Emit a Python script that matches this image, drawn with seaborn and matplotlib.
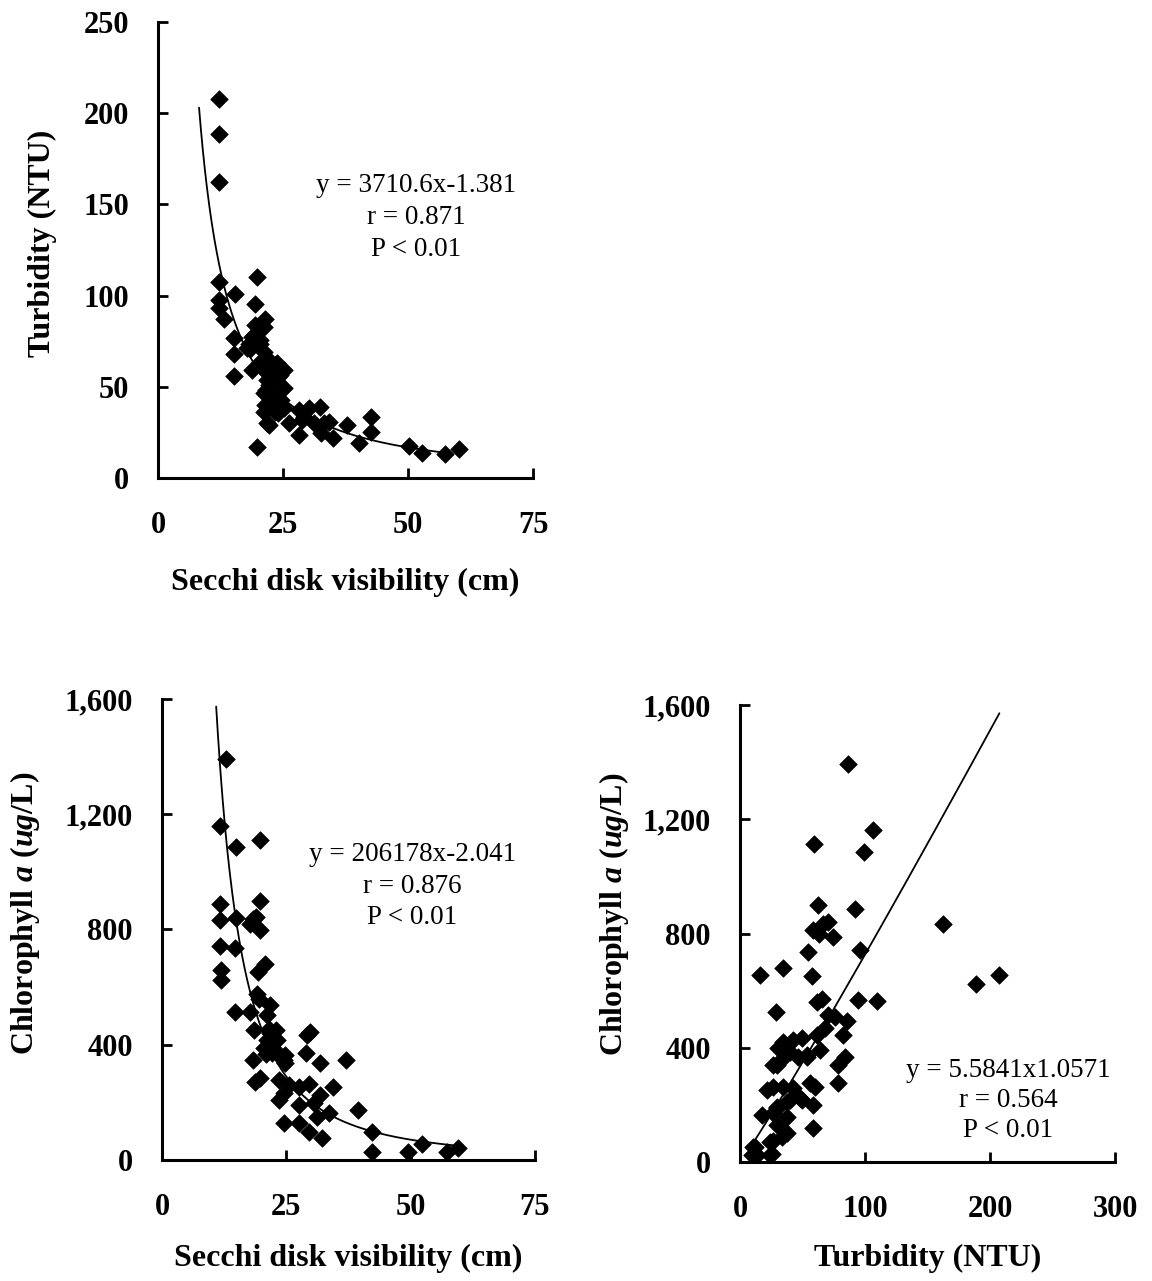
import numpy as np
import pandas as pd
import matplotlib
matplotlib.use("Agg")
import matplotlib.pyplot as plt
from matplotlib.ticker import FuncFormatter, FixedLocator
import seaborn as sns

# Secchi disk visibility (cm) vs turbidity (NTU)
secchi_t = [12.2, 12.2, 12.2, 12.2, 12.2, 12.2, 13.1, 15.3, 19.7, 19.3, 15.2, 15.2, 15.2, 19.7,
            21.3, 21.1, 19.3, 19.1, 20.3, 18.7, 18.1, 17.7, 18.4, 20.4, 21.1, 22.1, 23.7, 25.1,
            18.7, 20.7, 20.4, 23.3, 24.3, 21.7, 21.7, 23.9, 22.1, 25.1, 21.6, 21.1, 22.3, 24.6,
            23.3, 21.3, 23.3, 25.1, 22.7, 21.1, 23.9, 22.1, 21.7, 26.1, 28.1, 30.1, 29.1, 32.4,
            28.7, 31.1, 33.1, 34.1, 28.1, 32.5, 34.9, 37.7, 42.5, 42.5, 40.1, 50.1, 52.7, 57.4, 60.1]
turbidity_s = [207.5, 188.7, 162.3, 107.5, 97.5, 92.9, 86.9, 100.8, 109.9, 95.1, 76.8, 67.7, 55.9, 17.2,
               86.9, 82.9, 83.8, 78.3, 75.6, 77.4, 73.7, 71.0, 70.5, 73.7, 69.2, 64.6, 62.8, 59.1,
               59.3, 60.8, 63.7, 62.0, 56.4, 57.3, 53.7, 55.5, 50.9, 49.1, 48.2, 46.4, 43.6, 42.7,
               44.9, 40.0, 36.3, 38.5, 38.1, 36.3, 35.4, 29.0, 30.0, 30.0, 37.2, 38.1, 33.6, 39.0,
               31.8, 30.0, 30.0, 30.8, 23.5, 24.5, 22.1, 29.0, 33.6, 25.4, 19.0, 17.5, 13.5, 13.1, 15.7]

# Secchi disk visibility (cm) vs chlorophyll a (ug/L)
secchi_c = [12.9, 11.7, 14.8, 19.7, 11.7, 11.7, 14.8, 19.7, 19.0, 17.7, 19.7, 18.4, 11.7, 14.7,
            11.8, 11.8, 20.7, 19.4, 19.2, 19.6, 14.7, 17.7, 21.7, 21.1, 18.5, 21.5, 22.9, 29.1,
            29.8, 21.1, 23.1, 20.5, 22.2, 24.7, 29.0, 18.4, 24.7, 31.8, 37.1, 18.7, 19.7, 23.5,
            25.5, 27.5, 29.5, 34.4, 23.5, 24.5, 27.5, 30.5, 31.8, 31.2, 33.5, 24.5, 27.5, 29.5,
            32.2, 39.5, 42.2, 42.2, 49.5, 52.2, 57.3, 59.6, 22.1, 23.1, 21.0, 24.6, 22.7, 21.7]
chla_s = [1391, 1160, 1085, 1110, 889, 833, 840, 900, 842, 820, 799, 835, 741, 737,
          658, 623, 681, 652, 577, 560, 514, 514, 537, 502, 450, 456, 450, 433,
          444, 416, 416, 387, 370, 364, 370, 346, 335, 335, 346, 271, 283, 277,
          260, 254, 265, 254, 208, 231, 190, 197, 225, 150, 162, 127, 127, 98,
          75, 173, 98, 29, 29, 55, 29, 40, 386, 375, 369, 346, 420, 439]

# Turbidity (NTU) vs chlorophyll a (ug/L)
turbidity_c = [86.7, 106.1, 99.5, 59.5, 62.1, 92.0, 162.1, 70.7, 66.7, 58.7, 63.5, 74.7, 96.0, 54.1,
               34.7, 16.0, 57.3, 207.5, 188.8, 28.8, 61.3, 65.3, 94.1, 109.3, 70.7, 76.0, 85.3, 82.7,
               64.0, 84.0, 78.7, 78.7, 53.3, 26.7, 21.3, 56.0, 60.0, 48.0, 58.7, 58.7, 17.3, 29.3,
               37.3, 33.3, 26.7, 12.0, 13.3, 24.0, 9.3, 34.7, 42.7, 49.3, 61.3, 68.0, 30.7, 40.0,
               53.3, 29.3, 34.7, 46.7, 26.7, 34.7, 42.7, 40.0, 49.3, 29.3, 26.7, 37.3, 29.3, 37.3,
               24.0, 10.7, 25.3]
chla_t = [1393, 1162, 1084, 1112, 900, 885, 835, 839, 835, 814, 800, 789, 742, 736,
          680, 655, 651, 655, 623, 526, 561, 572, 567, 562, 514, 508, 493, 444,
          392, 369, 340, 275, 374, 340, 252, 275, 264, 223, 200, 118, 165, 188,
          211, 89, 72, 54, 25, 25, 25, 421, 427, 433, 444, 468, 398, 386,
          369, 340, 363, 369, 264, 264, 258, 217, 217, 194, 171, 159, 130, 100,
          71, 54, 29]

# Power-law fits  y = a * x^b  and the x-span each fitted curve covers
fit1 = (3710.6, -1.381, 8.2, 58.5)
fit2 = (206178.0, -2.041, 10.9, 59.0)
fit3 = (5.5841, 1.0571, 10.0, 207.5)

fit_labels = [
    ["y = 3710.6x-1.381", "r = 0.871", "P < 0.01"],
    ["y = 206178x-2.041", "r = 0.876", "P < 0.01"],
    ["y = 5.5841x1.0571", "r = 0.564", "P < 0.01"],
]

xticks_secchi = [0, 25, 50, 75]
xticks_turb = [0, 100, 200, 300]
yticks_turb = [0, 50, 100, 150, 200, 250]
yticks_chla = [0, 400, 800, 1200, 1600]

sns.set_theme(style="ticks")
plt.rcParams["font.family"] = ["Liberation Serif", "DejaVu Serif"]
plt.rcParams["mathtext.fontset"] = "custom"
plt.rcParams["mathtext.rm"] = "Liberation Serif:bold"
plt.rcParams["mathtext.it"] = "Liberation Serif:bold:italic"
plt.rcParams["mathtext.bf"] = "Liberation Serif:bold"

TICK_FS = 22
LABEL_FS = 23
NOTE_FS = 19.5

fig = plt.figure(figsize=(11.52, 12.81), dpi=100)
ax1 = fig.add_axes([0.1372, 0.6269, 0.3255, 0.3560])
ax2 = fig.add_axes([0.1406, 0.0945, 0.3238, 0.3599])
ax3 = fig.add_axes([0.6424, 0.0929, 0.3255, 0.3567])


def draw_panel(ax, xs, ys, fit, xlim, ylim, xticks, yticks, xlabel, ylabel,
               note, note_xy, xlabel_y, ylabel_xy):
    df = pd.DataFrame({"x": xs, "y": ys})
    sns.scatterplot(data=df, x="x", y="y", ax=ax, marker="D", s=80,
                    color="black", edgecolor="black", linewidth=0.5, zorder=3)
    a, b, x0, x1 = fit
    xc = np.linspace(x0, x1, 400)
    curve = pd.DataFrame({"x": xc, "y": a * xc ** b})
    sns.lineplot(data=curve, x="x", y="y", ax=ax, color="black", linewidth=1.3,
                 zorder=2, estimator=None, sort=False)
    ax.set_xlim(*xlim)
    ax.set_ylim(*ylim)
    ax.xaxis.set_major_locator(FixedLocator(xticks))
    ax.yaxis.set_major_locator(FixedLocator(yticks))
    ax.yaxis.set_major_formatter(FuncFormatter(lambda v, p: f"{v:,.0f}"))
    ax.xaxis.set_major_formatter(FuncFormatter(lambda v, p: f"{v:,.0f}"))
    sns.despine(ax=ax)
    for side in ("left", "bottom"):
        ax.spines[side].set_linewidth(2.2)
        ax.spines[side].set_color("black")
    ax.tick_params(axis="both", direction="in", length=7, width=2, color="black",
                   labelsize=TICK_FS, labelcolor="black")
    ax.tick_params(axis="y", pad=21)
    ax.tick_params(axis="x", pad=24)
    for lab in ax.get_xticklabels() + ax.get_yticklabels():
        lab.set_fontweight("bold")
    ax.set_xlabel(xlabel, fontsize=LABEL_FS, fontweight="bold", color="black")
    ax.set_ylabel(ylabel, fontsize=LABEL_FS, fontweight="bold", color="black")
    ax.xaxis.set_label_coords(0.5, xlabel_y)
    ax.xaxis.label.set_va("baseline")
    ax.yaxis.set_label_coords(*ylabel_xy)
    ax.yaxis.label.set_va("baseline")
    nx, ny = note_xy
    for i, line in enumerate(note):
        ax.text(nx, ny[i], line, transform=ax.transAxes, ha="center",
                va="baseline", fontsize=NOTE_FS, color="black")
    ax.set_facecolor("white")
    ax.grid(False)


draw_panel(ax1, secchi_t, turbidity_s, fit1, (0, 75), (0, 250),
           xticks_secchi, yticks_turb, "Secchi disk visibility (cm)", "Turbidity (NTU)",
           fit_labels[0], (0.688, [0.628, 0.557, 0.4875]), -0.2456, (-0.288, 0.515))
draw_panel(ax2, secchi_c, chla_s, fit2, (0, 75), (0, 1600),
           xticks_secchi, yticks_chla, "Secchi disk visibility (cm)",
           r"Chlorophyll $a$ ($ug$/L)",
           fit_labels[1], (0.6716, [0.6486, 0.5798, 0.5113]), -0.23, (-0.346, 0.534))
draw_panel(ax3, turbidity_c, chla_t, fit3, (0, 300), (0, 1600),
           xticks_turb, yticks_chla, "Turbidity (NTU)",
           r"Chlorophyll $a$ ($ug$/L)",
           fit_labels[2], (0.7155, [0.1867, 0.121, 0.0554]), -0.2276, (-0.315, 0.543))

fig.savefig("out.png", dpi=100, facecolor="white")
